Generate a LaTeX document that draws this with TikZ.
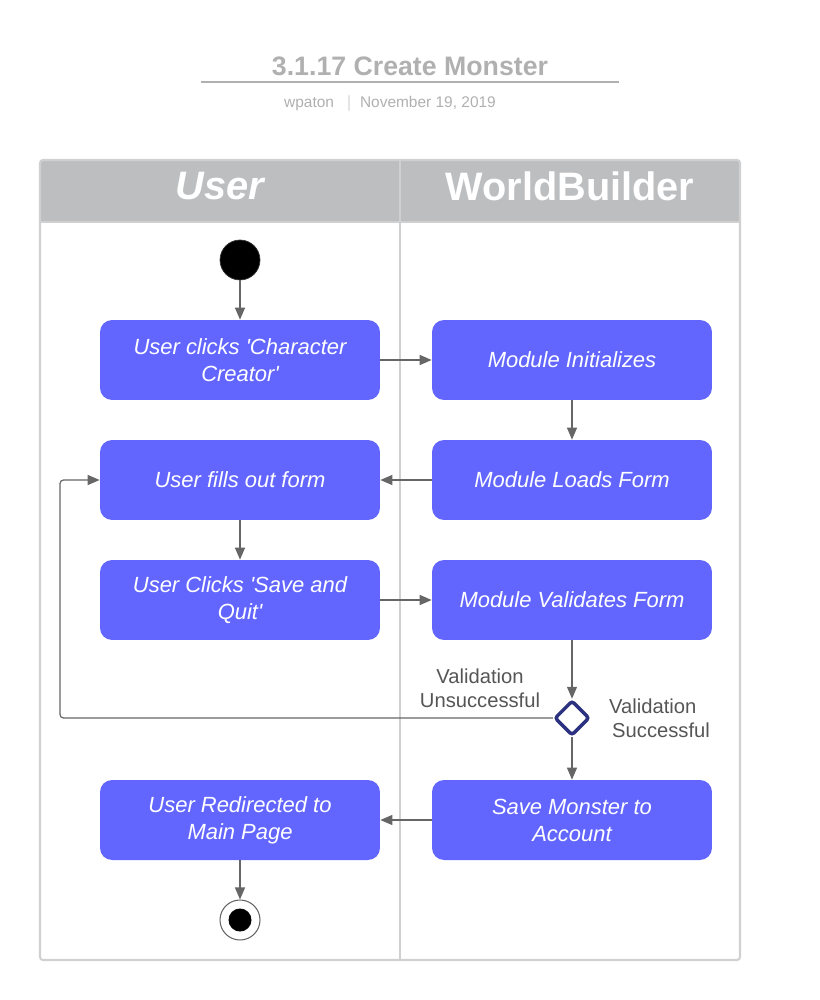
\documentclass[tikz,border=0pt]{standalone}
\usepackage{fontspec}
\setmainfont{Liberation Sans}[Ligatures=TeXOff]
\usetikzlibrary{arrows.meta,shapes.geometric}

\definecolor{boxblue}{RGB}{98,102,255}
\definecolor{headgray}{RGB}{189,190,192}
\definecolor{lanegray}{RGB}{208,208,208}
\definecolor{linegray}{RGB}{102,102,102}
\definecolor{labelgray}{RGB}{85,85,85}
\definecolor{titlegray}{RGB}{176,176,176}
\definecolor{decblue}{RGB}{44,50,128}

\begin{document}
\begin{tikzpicture}[x=0.02cm, y=-0.02cm,
    act/.style={fill=boxblue, rounded corners=0.24cm, minimum width=5.6cm, minimum height=1.6cm,
        inner sep=2pt, text=white, align=center, font=\fontsize{12.5}{15.3}\selectfont\itshape},
    flow/.style={draw=linegray, line width=0.7pt, -{Triangle[length=0.24cm,width=0.2cm]}},
    lbl/.style={text=labelgray, align=center, font=\fontsize{11.5}{13.4}\selectfont},
    head/.style={text=white, font=\fontsize{22.6}{26}\selectfont\bfseries}]
    \useasboundingbox (0,0) rectangle (820,1000);

    % Title
    \node[text=titlegray, font=\fontsize{15.2}{18}\selectfont\bfseries] (title) at (410,66) {3.1.17 Create Monster};
    \draw[titlegray, line width=1.2pt] (201,82) -- (619,82);
    \node[text=titlegray, font=\fontsize{8.8}{10}\selectfont] (sub) at (390,104) {wpaton \ \ $|$\ \ November 19, 2019};

    % Swimlanes
    \fill[headgray] (40,222) [rounded corners=0.06cm] -- (40,160) -- (740,160) [sharp corners] -- (740,222) -- cycle;
    \draw[lanegray, line width=1.2pt, rounded corners=0.06cm] (40,160) rectangle (740,960);
    \draw[lanegray, line width=1.2pt] (40,222) -- (740,222);
    \draw[lanegray, line width=1.2pt] (400,160) -- (400,960);
    \node[head, font=\fontsize{22.6}{26}\selectfont\bfseries\itshape] (huser) at (220,186) {User};
    \node[head] (hworld) at (570,186) {WorldBuilder};

    % Activities
    \node[circle, fill=black, draw=black!80, minimum size=0.8cm, inner sep=0pt] (start) at (240,260) {};
    \node[act] (uclick) at (240,360) {User clicks 'Character\\Creator'};
    \node[act] (minit) at (572,360) {Module Initializes};
    \node[act] (ufill) at (240,480) {User fills out form};
    \node[act] (mload) at (572,480) {Module Loads Form};
    \node[act] (usave) at (240,600) {User Clicks 'Save and\\Quit'};
    \node[act] (mvalid) at (572,600) {Module Validates Form};
    \node[diamond, draw=decblue, line width=2pt, rounded corners=1.5pt, inner sep=0pt,
        minimum width=0.7cm, minimum height=0.7cm] (dec) at (572,718) {};
    \node[act] (msave) at (572,820) {Save Monster to\\Account};
    \node[act] (uredir) at (240,820) {User Redirected to\\Main Page};
    \node[circle, draw=linegray, line width=0.6pt, minimum size=0.8cm, inner sep=0pt] (stop) at (240,920) {};
    \fill[black] (stop.center) circle (0.23cm);

    % Guards
    \node[lbl] (lfail) at (480,688) {Validation\\Unsuccessful};
    \node[lbl, anchor=west, align=left] (lok) at (603,718) {Validation\\\hspace*{0.06cm}Successful};

    % Flow
    \coordinate (back) at (60,718);
    \draw[flow] (start) -- (uclick);
    \draw[flow] (uclick) -- (minit);
    \draw[flow] (minit) -- (mload);
    \draw[flow] (mload) -- (ufill);
    \draw[flow] (ufill) -- (usave);
    \draw[flow] (usave) -- (mvalid);
    \draw[flow] (mvalid) -- (dec);
    \draw[flow, rounded corners=2pt] (dec.west) -- (back) |- (ufill.west);
    \draw[flow] (dec) -- (msave);
    \draw[flow] (msave) -- (uredir);
    \draw[flow] (uredir) -- (stop);
\end{tikzpicture}
\end{document}
